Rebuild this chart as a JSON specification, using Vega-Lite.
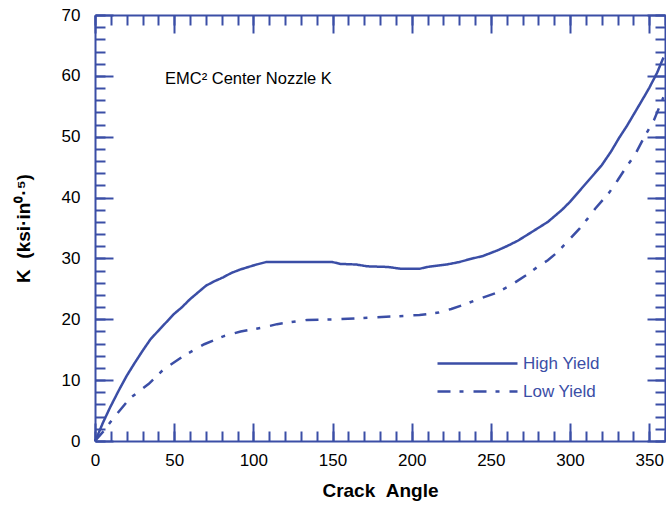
{
  "$schema": "https://vega.github.io/schema/vega-lite/v6.json",
  "width": 570,
  "height": 426,
  "autosize": {"type": "none"},
  "padding": {"left": 95, "top": 15, "right": 1, "bottom": 67},
  "background": "white",
  "config": {
    "view": {"stroke": null},
    "font": "Liberation Sans",
    "axis": {
      "grid": false,
      "domainColor": "#3b4ea6",
      "tickColor": "#3b4ea6",
      "domainWidth": 2,
      "tickWidth": 2,
      "labelColor": "black",
      "labelFont": "Liberation Sans",
      "labelFontSize": 17,
      "titleFont": "Liberation Sans",
      "titleFontSize": 19,
      "titleFontWeight": "bold",
      "titleColor": "black"
    },
    "legend": {"padding": 0}
  },
  "data": {
    "values": [
      {"series": "High Yield", "angle": 0, "K": 0},
      {"series": "High Yield", "angle": 1, "K": 0.5},
      {"series": "High Yield", "angle": 5, "K": 3},
      {"series": "High Yield", "angle": 9.5, "K": 5.5},
      {"series": "High Yield", "angle": 15, "K": 8.3},
      {"series": "High Yield", "angle": 20, "K": 10.7},
      {"series": "High Yield", "angle": 25, "K": 12.8},
      {"series": "High Yield", "angle": 30, "K": 14.8},
      {"series": "High Yield", "angle": 35, "K": 16.7},
      {"series": "High Yield", "angle": 41, "K": 18.4},
      {"series": "High Yield", "angle": 50, "K": 20.9},
      {"series": "High Yield", "angle": 55, "K": 22},
      {"series": "High Yield", "angle": 60, "K": 23.3},
      {"series": "High Yield", "angle": 65, "K": 24.4},
      {"series": "High Yield", "angle": 70, "K": 25.5},
      {"series": "High Yield", "angle": 75, "K": 26.2},
      {"series": "High Yield", "angle": 81, "K": 26.9},
      {"series": "High Yield", "angle": 86, "K": 27.6},
      {"series": "High Yield", "angle": 92, "K": 28.2},
      {"series": "High Yield", "angle": 97, "K": 28.6},
      {"series": "High Yield", "angle": 102, "K": 29.0},
      {"series": "High Yield", "angle": 108, "K": 29.4},
      {"series": "High Yield", "angle": 150, "K": 29.4},
      {"series": "High Yield", "angle": 155, "K": 29.1},
      {"series": "High Yield", "angle": 165, "K": 29.0},
      {"series": "High Yield", "angle": 172, "K": 28.7},
      {"series": "High Yield", "angle": 185, "K": 28.6},
      {"series": "High Yield", "angle": 193, "K": 28.3},
      {"series": "High Yield", "angle": 205, "K": 28.3},
      {"series": "High Yield", "angle": 210, "K": 28.6},
      {"series": "High Yield", "angle": 222, "K": 29.0},
      {"series": "High Yield", "angle": 230, "K": 29.4},
      {"series": "High Yield", "angle": 237, "K": 29.9},
      {"series": "High Yield", "angle": 245, "K": 30.4},
      {"series": "High Yield", "angle": 254, "K": 31.3},
      {"series": "High Yield", "angle": 260, "K": 32.0},
      {"series": "High Yield", "angle": 267, "K": 32.9},
      {"series": "High Yield", "angle": 275, "K": 34.2},
      {"series": "High Yield", "angle": 286, "K": 36.0},
      {"series": "High Yield", "angle": 295, "K": 38.0},
      {"series": "High Yield", "angle": 300, "K": 39.3},
      {"series": "High Yield", "angle": 311, "K": 42.6},
      {"series": "High Yield", "angle": 320, "K": 45.3},
      {"series": "High Yield", "angle": 326, "K": 47.6},
      {"series": "High Yield", "angle": 331, "K": 49.8},
      {"series": "High Yield", "angle": 336, "K": 51.8},
      {"series": "High Yield", "angle": 341, "K": 54.0},
      {"series": "High Yield", "angle": 346, "K": 56.2},
      {"series": "High Yield", "angle": 350, "K": 58.0},
      {"series": "High Yield", "angle": 355, "K": 60.5},
      {"series": "High Yield", "angle": 359, "K": 63},
      {"series": "Low Yield", "angle": 0, "K": 0},
      {"series": "Low Yield", "angle": 5, "K": 1.5},
      {"series": "Low Yield", "angle": 11.5, "K": 3.7},
      {"series": "Low Yield", "angle": 22, "K": 7.0},
      {"series": "Low Yield", "angle": 34, "K": 9.4},
      {"series": "Low Yield", "angle": 43, "K": 11.7},
      {"series": "Low Yield", "angle": 56, "K": 14.0},
      {"series": "Low Yield", "angle": 69, "K": 15.9},
      {"series": "Low Yield", "angle": 81, "K": 17.2},
      {"series": "Low Yield", "angle": 92, "K": 18.0},
      {"series": "Low Yield", "angle": 107, "K": 18.7},
      {"series": "Low Yield", "angle": 115, "K": 19.2},
      {"series": "Low Yield", "angle": 134, "K": 19.9},
      {"series": "Low Yield", "angle": 153, "K": 20.0},
      {"series": "Low Yield", "angle": 175, "K": 20.3},
      {"series": "Low Yield", "angle": 191, "K": 20.5},
      {"series": "Low Yield", "angle": 205, "K": 20.7},
      {"series": "Low Yield", "angle": 217, "K": 21.1},
      {"series": "Low Yield", "angle": 225, "K": 21.7},
      {"series": "Low Yield", "angle": 233, "K": 22.4},
      {"series": "Low Yield", "angle": 240, "K": 23.1},
      {"series": "Low Yield", "angle": 253, "K": 24.3},
      {"series": "Low Yield", "angle": 262, "K": 25.5},
      {"series": "Low Yield", "angle": 272, "K": 27.2},
      {"series": "Low Yield", "angle": 280, "K": 28.7},
      {"series": "Low Yield", "angle": 286, "K": 29.7},
      {"series": "Low Yield", "angle": 292, "K": 31.0},
      {"series": "Low Yield", "angle": 297, "K": 32.4},
      {"series": "Low Yield", "angle": 306, "K": 34.9},
      {"series": "Low Yield", "angle": 311, "K": 36.5},
      {"series": "Low Yield", "angle": 316, "K": 38.2},
      {"series": "Low Yield", "angle": 325, "K": 40.9},
      {"series": "Low Yield", "angle": 330, "K": 42.8},
      {"series": "Low Yield", "angle": 335, "K": 44.8},
      {"series": "Low Yield", "angle": 341, "K": 47},
      {"series": "Low Yield", "angle": 347, "K": 50},
      {"series": "Low Yield", "angle": 353, "K": 52.7},
      {"series": "Low Yield", "angle": 359, "K": 56.5}
    ]
  },
  "layer": [
    {
      "mark": {"type": "line", "color": "#3b4ea6", "strokeWidth": 2.5},
      "encoding": {
        "x": {
          "field": "angle", "type": "quantitative",
          "scale": {"domain": [0, 360], "nice": false, "zero": false},
          "axis": {"orient": "bottom", "values": [0, 50, 100, 150, 200, 250, 300, 350], "tickSize": -18, "labelPadding": 29, "title": "Crack\u00a0\u00a0Angle", "titlePadding": 13, "labelFlush": false}
        },
        "y": {
          "field": "K", "type": "quantitative",
          "scale": {"domain": [0, 70], "nice": false},
          "axis": {"orient": "left", "values": [0, 10, 20, 30, 40, 50, 60, 70], "tickSize": -18, "labelPadding": 33, "title": "K\u00a0\u00a0(ksi·in⁰·⁵)", "titlePadding": 28, "labelFlush": false}
        },
        "strokeDash": {
          "field": "series", "type": "nominal",
          "scale": {"domain": ["High Yield", "Low Yield"], "range": [[1, 0], [13, 9, 4, 10]]},
          "legend": {
            "orient": "none", "legendX": 374, "legendY": 340, "title": null,
            "symbolType": "M-8,0H8", "symbolSize": 100, "symbolStrokeWidth": 2.5,
            "symbolStrokeColor": "#3b4ea6", "labelColor": "#3b4ea6",
            "labelFont": "Liberation Sans", "labelFontSize": 17, "labelOffset": 37,
            "rowPadding": 10
          }
        }
      }
    },
    {
      "mark": {"type": "point", "opacity": 0},
      "encoding": {
        "x": {"field": "angle", "type": "quantitative", "axis": {"orient": "bottom", "values": [0, 10, 20, 30, 40, 50, 60, 70, 80, 90, 100, 110, 120, 130, 140, 150, 160, 170, 180, 190, 200, 210, 220, 230, 240, 250, 260, 270, 280, 290, 300, 310, 320, 330, 340, 350, 360], "tickSize": -10, "labels": false, "domain": false, "title": null}},
        "y": {"field": "K", "type": "quantitative", "axis": {"orient": "left", "values": [0, 2, 4, 6, 8, 10, 12, 14, 16, 18, 20, 22, 24, 26, 28, 30, 32, 34, 36, 38, 40, 42, 44, 46, 48, 50, 52, 54, 56, 58, 60, 62, 64, 66, 68, 70], "tickSize": -10, "labels": false, "domain": false, "title": null}}
      }
    },
    {
      "mark": {"type": "point", "opacity": 0},
      "encoding": {
        "x": {"field": "angle", "type": "quantitative", "axis": {"orient": "top", "values": [0, 50, 100, 150, 200, 250, 300, 350], "tickSize": -18, "labels": false, "domain": true, "title": null}},
        "y": {"field": "K", "type": "quantitative", "axis": {"orient": "right", "values": [0, 10, 20, 30, 40, 50, 60, 70], "tickSize": -18, "labels": false, "domain": true, "title": null}}
      }
    },
    {
      "mark": {"type": "point", "opacity": 0},
      "encoding": {
        "x": {"field": "angle", "type": "quantitative", "axis": {"orient": "top", "values": [0, 10, 20, 30, 40, 50, 60, 70, 80, 90, 100, 110, 120, 130, 140, 150, 160, 170, 180, 190, 200, 210, 220, 230, 240, 250, 260, 270, 280, 290, 300, 310, 320, 330, 340, 350, 360], "tickSize": -10, "labels": false, "domain": false, "title": null}},
        "y": {"field": "K", "type": "quantitative", "axis": {"orient": "right", "values": [0, 2, 4, 6, 8, 10, 12, 14, 16, 18, 20, 22, 24, 26, 28, 30, 32, 34, 36, 38, 40, 42, 44, 46, 48, 50, 52, 54, 56, 58, 60, 62, 64, 66, 68, 70], "tickSize": -10, "labels": false, "domain": false, "title": null}}
      }
    },
    {
      "data": {"values": [{"label": "EMC² Center Nozzle K"}]},
      "mark": {"type": "text", "align": "left", "baseline": "alphabetic", "font": "Liberation Sans", "fontSize": 16.5, "color": "black"},
      "encoding": {
        "text": {"field": "label"},
        "x": {"datum": 44.2, "type": "quantitative", "axis": null},
        "y": {"datum": 58.7, "type": "quantitative", "axis": null}
      }
    }
  ],
  "resolve": {"axis": {"x": "independent", "y": "independent"}}
}
